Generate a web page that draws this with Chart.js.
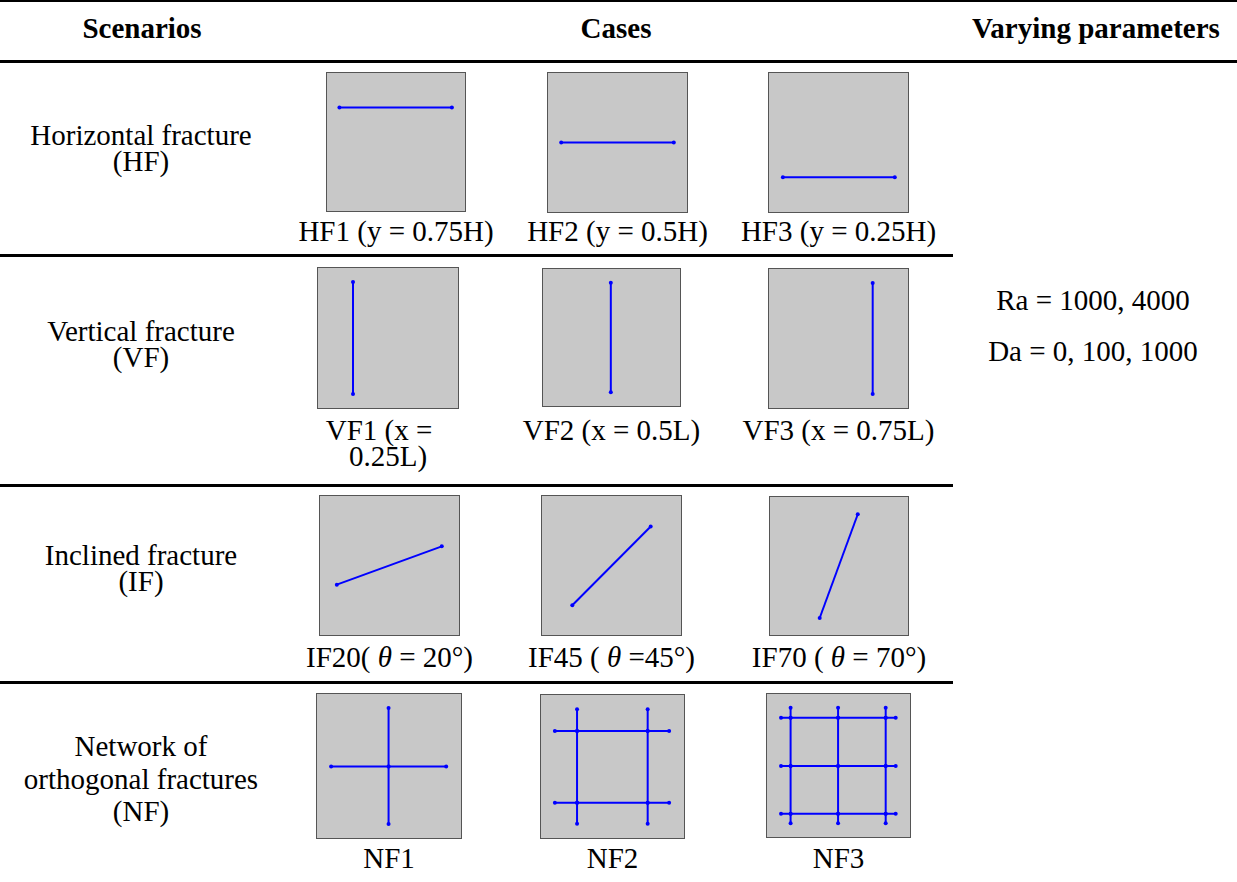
<!DOCTYPE html>
<html><head><meta charset="utf-8">
<script src="https://cdn.jsdelivr.net/npm/chart.js@4.4.0/dist/chart.umd.min.js"></script>
<style>
html,body{margin:0;padding:0;background:#fff}
body{width:1237px;height:882px;overflow:hidden;position:relative;font-family:"Liberation Serif","Times New Roman",serif;font-size:29px;color:#000}
.t{position:absolute;white-space:pre;line-height:29px;height:29px;transform:translateX(-50%)}
.b{font-weight:bold}
.rule{position:absolute;left:0;background:#000}
.box{position:absolute;background:#c8c8c8;border:1px solid #555;box-sizing:border-box}
.box canvas{display:block}
</style></head><body>
<script>
// ---- data ----
const headers = ["Scenarios", "Cases", "Varying parameters"];
const scenarioLines = [
  ["Horizontal fracture", "(HF)"],
  ["Vertical fracture", "(VF)"],
  ["Inclined fracture", "(IF)"],
  ["Network of", "orthogonal fractures", "(NF)"]
];
const caseLabels = [
  [["HF1 (y = 0.75H)"], ["HF2 (y = 0.5H)"], ["HF3 (y = 0.25H)"]],
  [["VF1 (x =", "0.25L)"], ["VF2 (x = 0.5L)"], ["VF3 (x = 0.75L)"]],
  [["IF20( <i>θ</i> = 20°)"], ["IF45 ( <i>θ</i> =45°)"], ["IF70 ( <i>θ</i> = 70°)"]],
  [["NF1"], ["NF2"], ["NF3"]]
];
const parameters = ["Ra = 1000, 4000", "Da = 0, 100, 1000"];

// fracture segments (fractions of L and H), one list of points per fracture
const HF1 = [[[0.09, 0.75], [0.905, 0.75]]];
const HF2 = [[[0.095, 0.5], [0.905, 0.5]]];
const HF3 = [[[0.1, 0.25], [0.905, 0.25]]];
const VF1 = [[[0.25, 0.1], [0.25, 0.9]]];
const VF2 = [[[0.495, 0.1], [0.495, 0.9]]];
const VF3 = [[[0.746, 0.1], [0.746, 0.9]]];
const IF20 = [[[0.121, 0.362], [0.876, 0.638]]];
const IF45 = [[[0.218, 0.214], [0.782, 0.781]]];
const IF70 = [[[0.36, 0.123], [0.636, 0.875]]];
const NF1 = [
  [[0.098, 0.497], [0.497, 0.497], [0.897, 0.497]],
  [[0.497, 0.097], [0.497, 0.497], [0.497, 0.903]]
];
const NF2 = [
  [[0.097, 0.247], [0.252, 0.247], [0.746, 0.247], [0.896, 0.247]],
  [[0.097, 0.748], [0.252, 0.748], [0.746, 0.748], [0.896, 0.748]],
  [[0.252, 0.1], [0.252, 0.247], [0.252, 0.748], [0.252, 0.9]],
  [[0.746, 0.1], [0.746, 0.247], [0.746, 0.748], [0.746, 0.9]]
];
const NF3 = [
  [[0.098, 0.163], [0.165, 0.163], [0.497, 0.163], [0.83, 0.163], [0.9, 0.163]],
  [[0.098, 0.497], [0.165, 0.497], [0.497, 0.497], [0.83, 0.497], [0.9, 0.497]],
  [[0.098, 0.834], [0.165, 0.834], [0.497, 0.834], [0.83, 0.834], [0.9, 0.834]],
  [[0.165, 0.097], [0.165, 0.163], [0.165, 0.497], [0.165, 0.834], [0.165, 0.903]],
  [[0.497, 0.097], [0.497, 0.163], [0.497, 0.497], [0.497, 0.834], [0.497, 0.903]],
  [[0.83, 0.097], [0.83, 0.163], [0.83, 0.497], [0.83, 0.834], [0.83, 0.903]]
];
const cases = [[HF1, HF2, HF3], [VF1, VF2, VF3], [IF20, IF45, IF70], [NF1, NF2, NF3]];

// ---- layout ----
const headerPos = [[142, 28], [616, 28], [1096, 28]];
const rules = [[0, 1237, 2], [60, 1237, 3], [254, 953, 3], [484, 953, 3], [681, 953, 3]];
const scenarioCenterX = 141;
const scenarioY = [[135, 161], [331, 357], [555, 581], [746, 779, 811]];
const boxes = [
  [[326, 72, 140], [547, 72, 141], [768, 72, 141]],
  [[317, 267, 142], [542, 268, 139], [768, 268, 141]],
  [[319, 495, 141], [541, 495, 141], [769, 496, 140]],
  [[316, 693, 146], [540, 694, 145], [766, 693, 145]]
];
const labelY = [[231], [430, 456], [657], [858]];
const labelDX = [[0, 0, 0], [[-9, 0], 0, 0], [0, 0, 0], [0, 0, 0]];
const paramPos = [[1093, 300], [1093, 351]];

function addText(html, cx, cy, cls) {
  const d = document.createElement('div');
  d.className = 't' + (cls ? ' ' + cls : '');
  d.innerHTML = html;
  d.style.left = cx + 'px';
  d.style.top = (cy - 14.5) + 'px';
  document.body.appendChild(d);
}

headers.forEach((h, i) => addText(h, headerPos[i][0], headerPos[i][1], 'b'));
rules.forEach(r => {
  const d = document.createElement('div');
  d.className = 'rule';
  d.style.top = r[0] + 'px'; d.style.width = r[1] + 'px'; d.style.height = r[2] + 'px';
  document.body.appendChild(d);
});
scenarioLines.forEach((lines, i) => lines.forEach((l, j) => addText(l, scenarioCenterX, scenarioY[i][j])));
parameters.forEach((p, i) => addText(p, paramPos[i][0], paramPos[i][1]));

cases.forEach((row, i) => row.forEach((fr, j) => {
  const [x, y, s] = boxes[i][j];
  const box = document.createElement('div');
  box.className = 'box';
  box.style.left = x + 'px'; box.style.top = y + 'px';
  box.style.width = s + 'px'; box.style.height = s + 'px';
  const cv = document.createElement('canvas');
  box.appendChild(cv);
  document.body.appendChild(box);
  new Chart(cv, {
    type: 'scatter',
    data: {
      datasets: fr.map(seg => ({
        data: seg.map(p => ({ x: p[0], y: p[1] })),
        showLine: true,
        borderColor: '#0000ff',
        backgroundColor: '#0000ff',
        borderWidth: 2,
        pointRadius: 2,
        pointBorderWidth: 0,
        pointBackgroundColor: '#0000ff'
      }))
    },
    options: {
      responsive: true,
      maintainAspectRatio: false,
      animation: false,
      events: [],
      layout: { padding: 0, autoPadding: false },
      plugins: { legend: { display: false }, tooltip: { enabled: false } },
      scales: {
        x: { type: 'linear', min: 0, max: 1, display: false },
        y: { type: 'linear', min: 0, max: 1, display: false }
      }
    }
  });
  const cx = x + s / 2;
  caseLabels[i][j].forEach((l, k) => {
    const dx = Array.isArray(labelDX[i][j]) ? labelDX[i][j][k] : labelDX[i][j];
    addText(l, cx + dx, labelY[i][k]);
  });
}));
</script>
</body></html>
